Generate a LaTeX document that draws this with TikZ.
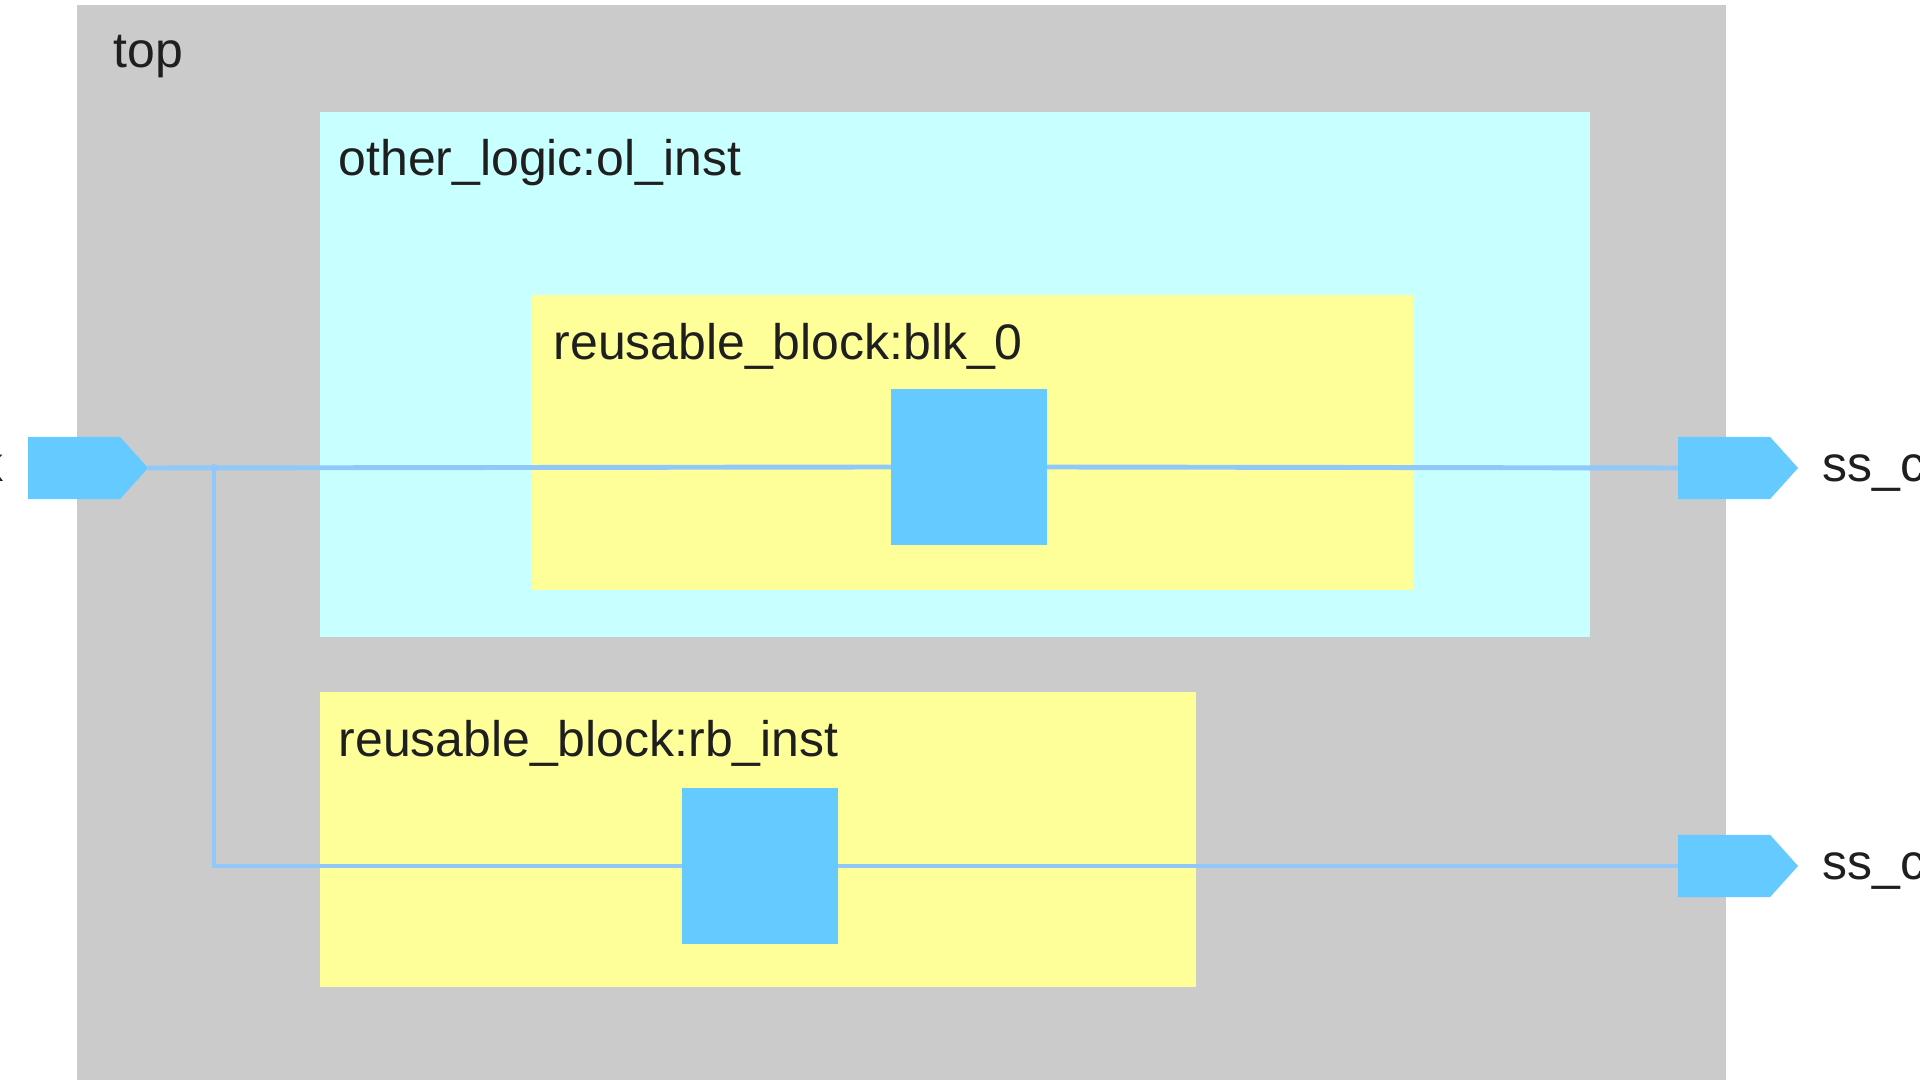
\documentclass[tikz,border=0pt]{standalone}
\usepackage{fontspec}
\setmainfont{Liberation Sans}
\usetikzlibrary{shapes.symbols,positioning}
\definecolor{topgray}{RGB}{203,203,203}
\definecolor{olcyan}{RGB}{200,255,255}
\definecolor{rbyellow}{RGB}{255,255,153}
\definecolor{cellblue}{RGB}{100,202,255}
\definecolor{wireblue}{RGB}{145,200,250}

\begin{document}
\begin{tikzpicture}[x=0.01cm, y=-0.01cm,
    inst/.style={anchor=north west, inner sep=0, outer sep=0},
    cell/.style={fill=cellblue, minimum width=1.56cm, minimum height=1.55cm, inner sep=0, outer sep=0},
    port/.style={shape=signal, signal to=east, signal from=nowhere, signal pointer angle=96, fill=cellblue, minimum width=1.2cm, minimum height=0.62cm, inner sep=0, outer sep=0},
    lbl/.style={anchor=base west, inner sep=0, font=\fontsize{14.2}{17}\selectfont, text=black!88},
    wire/.style={line width=1.4pt, wireblue}
]
\useasboundingbox (0,0) rectangle (1920,1080);
\clip (0,0) rectangle (1920,1080);
\node[inst, fill=topgray, minimum width=16.48cm, minimum height=10.85cm] (top) at (77,5) {};
\node[inst, fill=olcyan, minimum width=12.69cm, minimum height=5.25cm] (olinst) at (320,112) {};
\node[inst, fill=rbyellow, minimum width=8.81cm, minimum height=2.95cm] (blk0) at (531,295) {};
\node[inst, fill=rbyellow, minimum width=8.75cm, minimum height=2.95cm] (rbinst) at (320,692) {};

\node[lbl] (toplbl) at (113,68) {top};
\node[lbl] (ollbl) at (338,176) {other\_logic:ol\_inst};
\node[lbl] (blklbl) at (553,360) {reusable\_block:blk\_0};
\node[lbl] (rblbl) at (338,757) {reusable\_block:rb\_inst};

\node[cell] (cellblk) at (969,467) {};
\node[cell] (cellrb) at (760,866) {};

\node[port, anchor=west] (clkin) at (28,468) {};
\node[port, anchor=west] (ssout1) at (1678,468) {};
\node[port, anchor=west] (ssout2) at (1678,866) {};
\node[lbl, anchor=base east] (clklbl) at (4,482) {clk};
\node[lbl] (out1lbl) at (1822,482) {ss\_clk};
\node[lbl] (out2lbl) at (1822,880) {ss\_clk};

\coordinate (split) at (214,468);
\draw[wire] (clkin.east) -- (cellblk.west);
\draw[wire] (cellblk.east) -- (ssout1.west);
\draw[wire] (split) |- (cellrb.west);
\draw[wire] (cellrb.east) -- (ssout2.west);
\fill[wireblue] (split) circle (0.04cm);
\end{tikzpicture}
\end{document}
